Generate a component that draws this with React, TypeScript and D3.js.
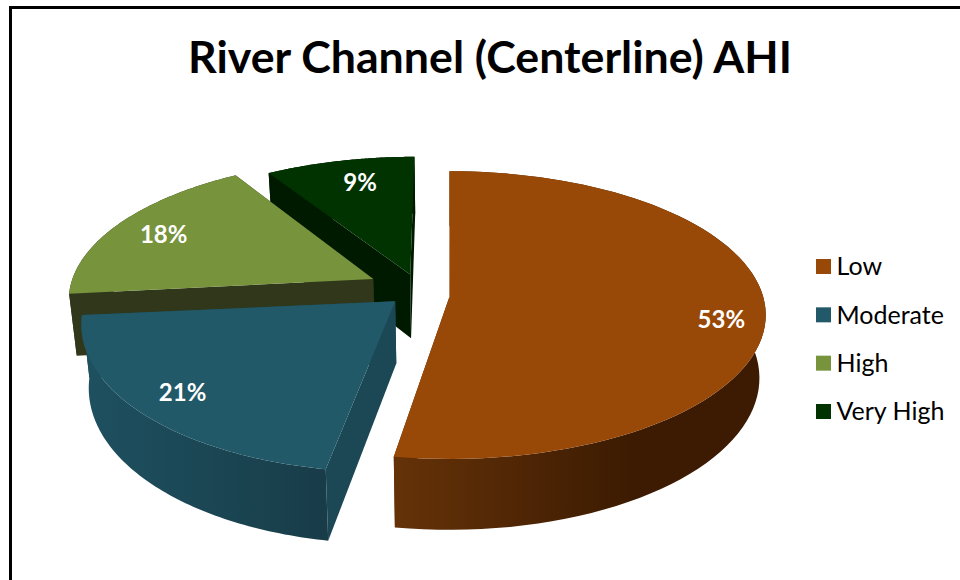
import { useEffect, useRef } from 'react';
import * as d3 from 'd3';

const categories = ['Low', 'Moderate', 'High', 'Very High'];
const shares = [53, 21, 18, 9];

const topColors = ['#984807', '#215968', '#77933c', '#003300'];
const edgeColors = ['#5e2e06', '#1c4856', '#30371a', '#001a00'];
const rimStart = ['#653208', '#1e5060', '#30371a', '#001a00'];
const rimEnd = ['#3c1b02', '#183c48', '#30371a', '#001a00'];

// how far each slice is pulled out of the pie, in disc units
const shiftU = [-0.002, -0.175, -0.25, -0.13];
const shiftV = [0, 0.03, -0.128, -0.16];
const scaleU = [1.006, 0.99, 0.98, 0.985];
const scaleV = [0.99, 1.03, 0.975, 0.96];
const angleTweak = [0, 0.0175, 0, 0];
const wallDepth = [62, 62, 62, 65];
const labelRadius = [0.87, 0.85, 0.8, 0.74];
const labelNudgeX = [-1, 0, -1, 4];
const labelNudgeY = [13, 0, 2, -2];
const drawOrder = [3, 2, 1, 0];

const width = 960;
const height = 580;
const cx = 450;
const cy = 297;
const radiusX = 312;
const radiusY = 143;
const tilt = 0.127;
const vanishX = 450;
const vanishScale = 0.98;
const font = 'Lato, "Open Sans", sans-serif';

const project = (u: number, v: number, depth = 0): [number, number] => {
  const w = 1 / (1 - tilt * v);
  const x = cx + radiusX * u * w;
  const y = cy + radiusY * v * w;
  if (!depth) return [x, y];
  return [vanishX + (x - vanishX) * vanishScale, y + depth * w];
};

export default function App() {
  const svgRef = useRef<SVGSVGElement>(null);

  useEffect(() => {
    if (!svgRef.current) return;
    const svg = d3.select(svgRef.current);
    svg.selectAll('*').remove();

    svg.append('path')
      .attr('d', `M10.5,${height} V7.5 H${width}`)
      .attr('fill', 'none')
      .attr('stroke', '#000')
      .attr('stroke-width', 3);

    svg.append('text')
      .attr('x', 490)
      .attr('y', 73)
      .attr('text-anchor', 'middle')
      .style('font-family', font)
      .style('font-weight', 700)
      .style('font-size', '44.7px')
      .attr('fill', '#000')
      .text('River Channel (Centerline) AHI');

    const slices = d3.pie<number>().sort(null)(shares);
    const line = d3.line();
    const defs = svg.append('defs');
    const plot = svg.append('g');

    drawOrder.forEach((i) => {
      const s = slices[i];
      const du = shiftU[i];
      const dv = shiftV[i];
      const angles = d3.range(0, 81).map(
        (k) => s.startAngle + angleTweak[i] + ((s.endAngle - s.startAngle) * k) / 80
      );
      const arcPoints = (depth: number) =>
        angles.map((a) => project(scaleU[i] * Math.sin(a) + du, -scaleV[i] * Math.cos(a) + dv, depth));
      const top = arcPoints(0);
      const bottom = arcPoints(wallDepth[i]);
      const apexTop = project(du, dv);
      const apexBottom = project(du, dv, wallDepth[i]);
      const first = top[0];
      const firstLow = bottom[0];
      const last = top[top.length - 1];
      const lastLow = bottom[bottom.length - 1];

      const grad = defs.append('linearGradient')
        .attr('id', `rim-${i}`)
        .attr('gradientUnits', 'userSpaceOnUse')
        .attr('x1', d3.min(bottom, (p) => p[0]) as number)
        .attr('x2', d3.max(bottom, (p) => p[0]) as number)
        .attr('y1', 0)
        .attr('y2', 0);
      grad.append('stop').attr('offset', 0).attr('stop-color', rimStart[i]);
      grad.append('stop').attr('offset', i === 0 ? 0.65 : 1).attr('stop-color', rimEnd[i]);

      const g = plot.append('g').attr('class', 'slice');

      // cut faces
      [[first, firstLow], [last, lastLow]].forEach(([a, b]) => {
        g.append('path')
          .attr('d', line([apexTop, a, b, apexBottom]) + 'Z')
          .attr('fill', edgeColors[i]);
      });

      // outer wall
      g.append('path')
        .attr('d', line([...top, ...bottom.slice().reverse()]) + 'Z')
        .attr('fill', `url(#rim-${i})`);

      // top face
      g.append('path')
        .attr('d', line([apexTop, ...top]) + 'Z')
        .attr('fill', topColors[i]);
    });

    // data labels on top of every slice
    slices.forEach((s, i) => {
      const mid = (s.startAngle + s.endAngle) / 2;
      const [x, y] = project(
        labelRadius[i] * Math.sin(mid) + shiftU[i],
        -labelRadius[i] * Math.cos(mid) + shiftV[i]
      );
      svg.append('text')
        .attr('x', x + labelNudgeX[i])
        .attr('y', y + labelNudgeY[i])
        .attr('dy', '0.35em')
        .attr('text-anchor', 'middle')
        .style('font-family', font)
        .style('font-weight', 700)
        .style('font-size', '24px')
        .attr('fill', '#fff')
        .text(`${shares[i]}%`);
    });

    const legendY = d3.scalePoint<string>().domain(categories).range([266.5, 411.5]);
    const legend = svg.append('g');
    categories.forEach((c, i) => {
      legend.append('rect')
        .attr('x', 816)
        .attr('y', (legendY(c) as number) - 7.5)
        .attr('width', 15)
        .attr('height', 15)
        .attr('fill', topColors[i]);
      legend.append('text')
        .attr('x', 836.5)
        .attr('y', legendY(c) as number)
        .attr('dy', '0.35em')
        .style('font-family', font)
        .style('font-size', '25px')
        .attr('fill', '#000')
        .text(c);
    });
  }, []);

  return (
    <svg
      ref={svgRef}
      width={width}
      height={height}
      style={{ position: 'absolute', left: 0, top: 0, background: '#fff' }}
    />
  );
}
